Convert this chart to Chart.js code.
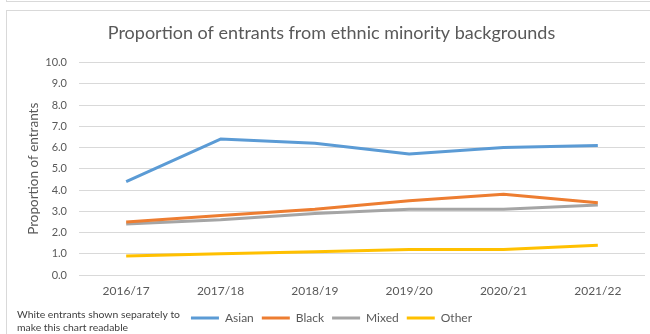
<!DOCTYPE html>
<html>
<head>
<meta charset="utf-8">
<script src="https://cdn.jsdelivr.net/npm/chart.js@4"></script>
<style>
  html, body { margin: 0; padding: 0; background: #fff; }
  #wrap { position: relative; width: 650px; height: 334px; overflow: hidden; }
  #prev { position: absolute; left: 6px; top: -20px; width: 700px; height: 20px; border: 1px solid #d9d9d9; }
  #box { position: absolute; left: 6px; top: 10px; width: 700px; height: 400px; border: 1px solid #d9d9d9; }
  canvas { position: absolute; left: 0; top: 0; }
</style>
</head>
<body>
<div id="wrap">
  <div id="prev"></div>
  <div id="box"></div>
  <canvas id="c" width="650" height="334"></canvas>
</div>
<script>
const categories = ['2016/17', '2017/18', '2018/19', '2019/20', '2020/21', '2021/22'];
const asian = [4.4, 6.4, 6.2, 5.7, 6.0, 6.1];
const black = [2.5, 2.8, 3.1, 3.5, 3.8, 3.4];
const mixed = [2.4, 2.6, 2.9, 3.1, 3.1, 3.3];
const other = [0.9, 1.0, 1.1, 1.2, 1.2, 1.4];
const noteLines = ['White entrants shown separately to', 'make this chart readable'];

const FONT = 'Lato, "Liberation Sans", sans-serif';

const notePlugin = {
  id: 'note',
  afterDraw(chart) {
    const ctx = chart.ctx;
    ctx.save();
    ctx.font = '10.4px ' + FONT;
    ctx.fillStyle = '#404040';
    ctx.textAlign = 'left';
    ctx.textBaseline = 'middle';
    ctx.fillText(noteLines[0], 17, 315);
    ctx.fillText(noteLines[1], 17, 328);
    ctx.restore();
  }
};

function ds(label, data, color) {
  return {
    label, data,
    borderColor: color, backgroundColor: color,
    borderWidth: 3, pointRadius: 0, pointHoverRadius: 0,
    tension: 0, borderJoinStyle: 'round', borderCapStyle: 'butt',
    pointStyle: 'line'
  };
}

new Chart(document.getElementById('c'), {
  type: 'line',
  data: {
    labels: categories,
    datasets: [
      ds('Asian', asian, '#5b9bd5'),
      ds('Black', black, '#ed7d31'),
      ds('Mixed', mixed, '#a5a5a5'),
      ds('Other', other, '#ffc000')
    ]
  },
  options: {
    responsive: false,
    animation: false,
    events: [],
    layout: { padding: { left: 18, right: 5, top: 0, bottom: 0 } },
    plugins: {
      title: {
        display: true,
        text: 'Proportion of entrants from ethnic minority backgrounds',
        color: '#595959',
        font: { family: FONT, size: 18, weight: 'normal' },
        padding: { top: 22, bottom: 19 }
      },
      legend: {
        display: true,
        position: 'bottom',
        labels: {
          usePointStyle: true,
          pointStyle: 'line',
          pointStyleWidth: 28,
          color: '#595959',
          font: { family: FONT, size: 12 },
          padding: 8
        }
      },
      tooltip: { enabled: false }
    },
    scales: {
      x: {
        offset: true,
        grid: { display: false, drawTicks: false, offset: true },
        border: { display: false },
        ticks: { color: '#595959', font: { family: FONT, size: 12 }, padding: 9, maxRotation: 0 },
        afterFit(scale) { scale.height = 29; }
      },
      y: {
        min: 0, max: 10,
        ticks: {
          stepSize: 1, color: '#595959', font: { family: FONT, size: 11 }, padding: 12,
          callback: v => v.toFixed(1)
        },
        grid: { color: '#d9d9d9', lineWidth: 1, drawTicks: false },
        border: { display: false },
        title: {
          display: true, text: 'Proportion of entrants', color: '#595959',
          font: { family: FONT, size: 13.5 }, padding: { top: 8, bottom: 0 }
        },
        afterFit(scale) { scale.width = 61; }
      }
    }
  },
  plugins: [notePlugin]
});
</script>
</body>
</html>
